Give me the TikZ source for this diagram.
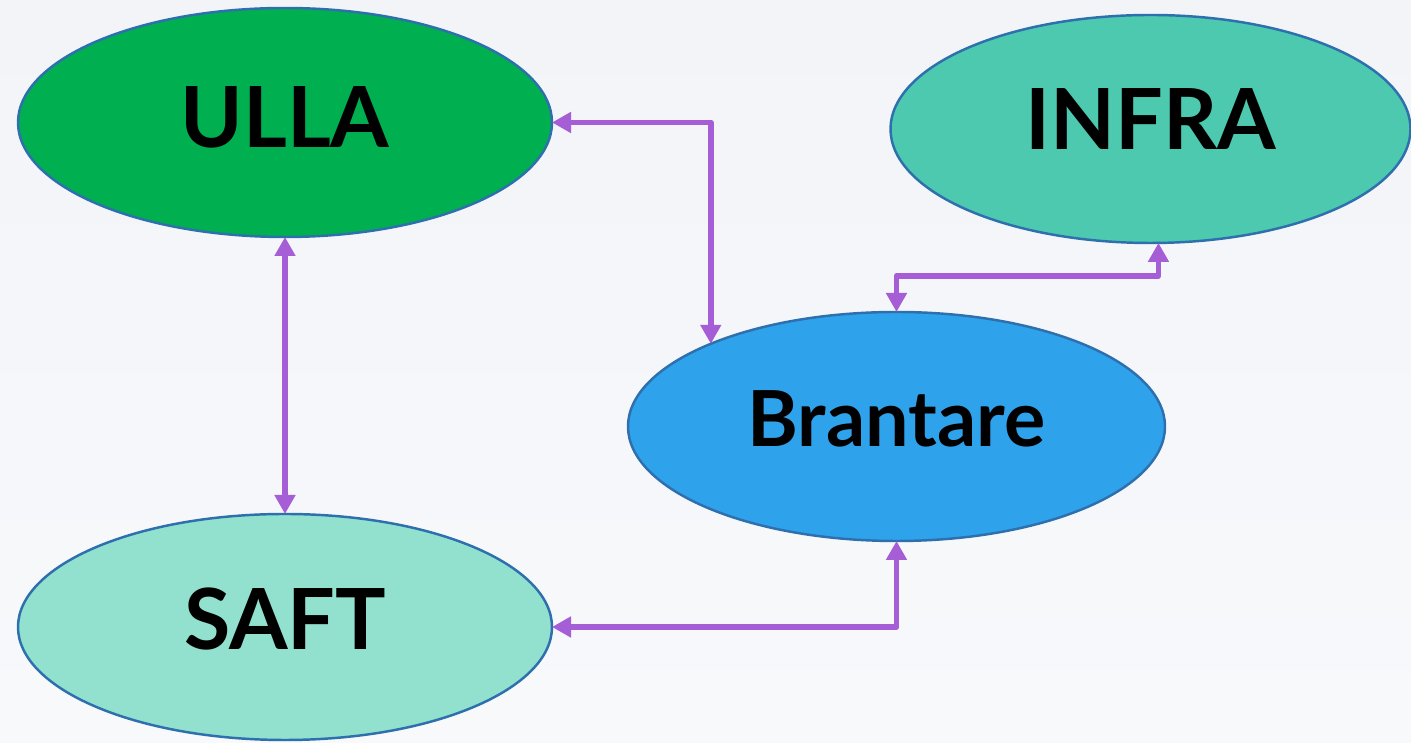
\documentclass[tikz,border=0pt]{standalone}
\usepackage{fontspec}
\setmainfont{Lato}
\usetikzlibrary{shapes.geometric,arrows.meta}
\definecolor{bgA}{HTML}{F2F4F8}
\definecolor{bgB}{HTML}{F8F9FB}
\definecolor{ullaC}{HTML}{00B050}
\definecolor{infraC}{HTML}{4CC9AE}
\definecolor{branC}{HTML}{2FA2EC}
\definecolor{saftC}{HTML}{92E0CE}
\definecolor{edgeC}{HTML}{2E6FAE}
\definecolor{connC}{HTML}{A55ED6}
\tikzset{
  blob/.style={ellipse, draw=edgeC, line width=0.7pt, inner sep=0pt, outer sep=0pt, text=black, font=\bfseries\fontsize{24}{28}\selectfont, text height=0.62cm},
  conn/.style={draw=connC, line width=1.6pt, line join=round, {Triangle[length=0.19cm,width=0.2cm]}-{Triangle[length=0.19cm,width=0.2cm]}}
}
\begin{document}
\begin{tikzpicture}
\useasboundingbox (0,0) rectangle (14.11,-7.43);
\shade[top color=bgA, bottom color=bgB] (0,0) rectangle (14.11,-7.43);
\node[blob, fill=ullaC, minimum width=5.34cm, minimum height=2.29cm, text depth=0.11cm] (ULLA) at (2.85,-1.225) {ULLA};
\node[blob, fill=infraC, minimum width=5.20cm, minimum height=2.28cm, text depth=0.2cm] (INFRA) at (11.505,-1.29) {INFRA};
\node[blob, fill=branC, minimum width=5.37cm, minimum height=2.29cm, font=\bfseries\fontsize{22}{26}\selectfont, text height=0.57cm, text depth=0.16cm] (BRAN) at (8.965,-4.265) {Brantare};
\node[blob, fill=saftC, minimum width=5.34cm, minimum height=2.26cm, text depth=0.17cm] (SAFT) at (2.85,-6.27) {SAFT};
\draw[conn] (ULLA.east) -| (BRAN.156.6);
\draw[conn] (INFRA.274) -- ++(0,-0.33) -| (BRAN.north);
\draw[conn] (ULLA.south) -- (SAFT.north);
\draw[conn] (SAFT.east) -| (BRAN.south);
\end{tikzpicture}
\end{document}
